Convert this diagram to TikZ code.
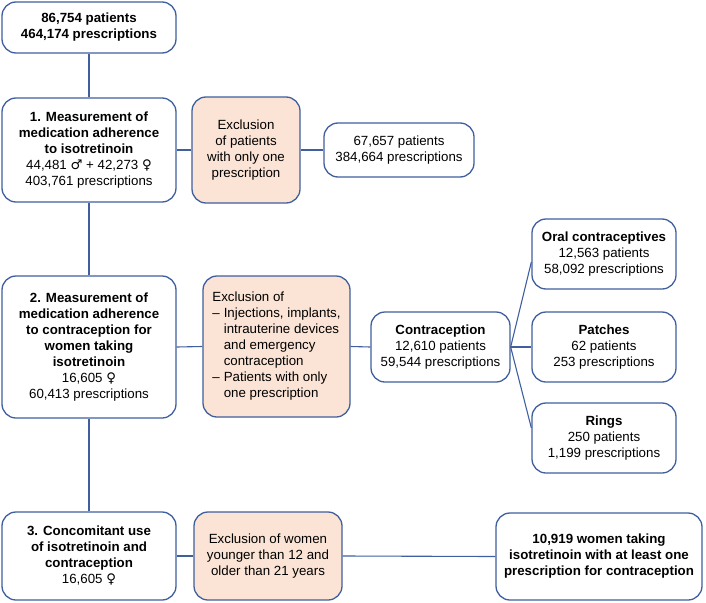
\documentclass[tikz,border=0pt]{standalone}
\usepackage{fontspec}
\setmainfont{Liberation Sans}
\newfontfamily\symfont{DejaVu Sans}
\newcommand{\male}{{\symfont\char"2642}}
\newcommand{\female}{{\symfont\char"2640}}
\definecolor{bordc}{HTML}{3F5F9E}
\definecolor{exclc}{HTML}{FBE4D5}
\begin{document}
\begin{tikzpicture}[x=1pt,y=-1pt,
  box/.style={draw=bordc, line width=1.3pt, rounded corners=14pt, fill=white,
    inner sep=0pt, align=center, font=\fontsize{13.3}{16}\selectfont},
  exbox/.style={box, fill=exclc},
  link/.style={draw=bordc, line width=1.1pt}]
\useasboundingbox (0,0) rectangle (706,602);
% nodes
\node[box, minimum width=174pt, minimum height=51pt] (A) at (89,27.5)
  {\textbf{86,754 patients}\\\textbf{464,174 prescriptions}};
\node[box, minimum width=174pt, minimum height=104pt] (B1) at (89,150)
  {\textbf{1. Measurement of}\\\textbf{medication adherence}\\\textbf{to isotretinoin}\\44,481 \male{} + 42,273 \female\\403,761 prescriptions};
\node[exbox, minimum width=108pt, minimum height=106pt] (E1) at (246,150)
  {Exclusion\\of patients\\with only one\\prescription};
\node[box, minimum width=150pt, minimum height=54pt] (R1) at (399,150)
  {67,657 patients\\384,664 prescriptions};
\node[box, minimum width=174pt, minimum height=142pt] (B2) at (89,347)
  {\textbf{2. Measurement of}\\\textbf{medication adherence}\\\textbf{to contraception for}\\\textbf{women taking}\\\textbf{isotretinoin}\\16,605 \female\\60,413 prescriptions};
\node[exbox, minimum width=147pt, minimum height=141pt] (E2) at (276.5,346.5)
  {\begin{tabular}{@{}l@{\hspace{4pt}}l@{}}
   \multicolumn{2}{@{}l@{}}{Exclusion of}\\
   -- & Injections, implants,\\
      & intrauterine devices\\
      & and emergency\\
      & contraception\\
   -- & Patients with only\\
      & one prescription
   \end{tabular}};
\node[box, minimum width=139pt, minimum height=70pt] (C) at (440.5,347)
  {\textbf{Contraception}\\12,610 patients\\59,544 prescriptions};
\node[box, minimum width=144pt, minimum height=70pt] (O) at (604,254)
  {\textbf{Oral contraceptives}\\12,563 patients\\58,092 prescriptions};
\node[box, minimum width=144pt, minimum height=70pt] (P) at (604,347)
  {\textbf{Patches}\\62 patients\\253 prescriptions};
\node[box, minimum width=144pt, minimum height=70pt] (Rg) at (604,438)
  {\textbf{Rings}\\250 patients\\1,199 prescriptions};
\node[box, minimum width=174pt, minimum height=88pt] (B3) at (89,556)
  {\textbf{3. Concomitant use}\\\textbf{of isotretinoin and}\\\textbf{contraception}\\16,605 \female};
\node[exbox, minimum width=148pt, minimum height=88pt] (E3) at (268,556)
  {Exclusion of women\\younger than 12 and\\older than 21 years};
\node[box, minimum width=206pt, minimum height=87pt] (F) at (599,556.5)
  {\textbf{10,919 women taking}\\\textbf{isotretinoin with at least one}\\\textbf{prescription for contraception}};
% connectors
\draw[link] (A.south) -- (B1.north);
\draw[link] (B1.south) -- (B2.north);
\draw[link] (B2.south) -- (B3.north);
\draw[link] (B1.east) -- (E1.west);
\draw[link] (E1.east) -- (R1.west);
\draw[link] (B2.east) -- (E2.west);
\draw[link] (E2.east) -- (C.west);
\draw[link] (C.east) -- ([yshift=-8pt]O.west);
\draw[link] (C.east) -- (P.west);
\draw[link] (C.east) -- ([yshift=10pt]Rg.west);
\draw[link] (B3.east) -- (E3.west);
\draw[link] (E3.east) -- (F.west);
\end{tikzpicture}
\end{document}
